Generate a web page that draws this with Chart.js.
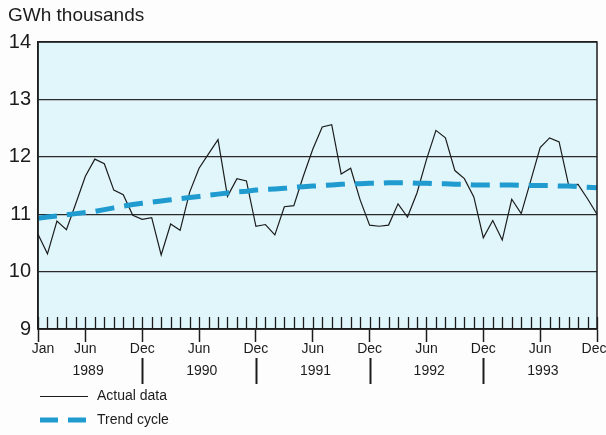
<!DOCTYPE html>
<html>
<head>
<meta charset="utf-8">
<script src="https://cdn.jsdelivr.net/npm/chart.js@4.4.1/dist/chart.umd.min.js"></script>
<style>
    html, body { margin: 0; padding: 0; background: #fdfdfd; }
    #wrap { width: 606px; height: 435px; position: relative; }
</style>
</head>
<body>
<div id="wrap"><canvas id="chart" width="606" height="435"></canvas></div>
<script>
// Data (monthly, Jan 1989 - Dec 1993), GWh thousands
const years = [1989, 1990, 1991, 1992, 1993];
const monthNames = ['Jan', 'Feb', 'Mar', 'Apr', 'May', 'Jun', 'Jul', 'Aug', 'Sep', 'Oct', 'Nov', 'Dec'];
const tickMonths = ['Jun', 'Dec'];

const actualData = [
    10.65, 10.31, 10.88, 10.73, 11.19, 11.66, 11.96, 11.88, 11.42, 11.34, 10.98, 10.91,
    10.94, 10.29, 10.83, 10.72, 11.38, 11.80, 12.05, 12.30, 11.31, 11.62, 11.58, 10.79,
    10.82, 10.64, 11.13, 11.15, 11.66, 12.13, 12.52, 12.56, 11.70, 11.80, 11.25, 10.81,
    10.79, 10.81, 11.18, 10.95, 11.37, 11.95, 12.46, 12.33, 11.76, 11.62, 11.30, 10.59,
    10.89, 10.55, 11.26, 11.01, 11.58, 12.16, 12.33, 12.26, 11.51, 11.52, 11.27, 11.00
];

const trendData = [
    10.93, 10.95, 10.97, 10.99, 11.01, 11.03, 11.05, 11.08, 11.11, 11.14, 11.17, 11.19,
    11.21, 11.23, 11.25, 11.27, 11.29, 11.31, 11.33, 11.35, 11.37, 11.39, 11.40, 11.42,
    11.43, 11.44, 11.45, 11.47, 11.48, 11.49, 11.50, 11.51, 11.52, 11.53, 11.53, 11.54,
    11.54, 11.55, 11.55, 11.55, 11.54, 11.54, 11.53, 11.53, 11.52, 11.52, 11.51, 11.51,
    11.51, 11.51, 11.51, 11.50, 11.50, 11.50, 11.50, 11.49, 11.49, 11.48, 11.47, 11.46
];

const labels = [];
years.forEach(y => monthNames.forEach(m => labels.push(m + ' ' + y)));

const FONT = "'Liberation Sans', Arial, Helvetica, sans-serif";
const INK = '#1c1c1c';
const TREND = '#1f9bd0';

function isMajor(i) {
    return i === 0 || tickMonths.includes(labels[i].split(' ')[0]);
}

// background, inner ticks, month/year rows, title, legend
const decor = {
    id: 'decor',
    beforeDraw(chart) {
        const { ctx, chartArea: a } = chart;
        ctx.save();
        ctx.fillStyle = '#e0f6fa';
        ctx.fillRect(a.left, a.top, a.right - a.left, a.bottom - a.top);
        ctx.restore();
    },
    afterDraw(chart) {
        const { ctx, chartArea: a } = chart;
        const x = chart.scales.x;
        ctx.save();

        // frame
        ctx.strokeStyle = INK;
        ctx.lineWidth = 1.5;
        ctx.strokeRect(a.left, a.top, a.right - a.left, a.bottom - a.top);

        // monthly ticks inside the plot
        ctx.lineWidth = 1.3;
        labels.forEach((l, i) => {
            const px = Math.round(x.getPixelForValue(i)) + 0.5;
            ctx.beginPath();
            ctx.moveTo(px, a.bottom);
            ctx.lineTo(px, a.bottom - 12);
            ctx.stroke();
        });

        // month labels (ends nudged inwards like the original)
        ctx.fillStyle = INK;
        ctx.font = '14px ' + FONT;
        ctx.textAlign = 'center';
        ctx.textBaseline = 'middle';
        labels.forEach((l, i) => {
            if (!isMajor(i)) return;
            let px = x.getPixelForValue(i);
            if (i === 0) px += 5;
            if (i === labels.length - 1) px -= 3;
            ctx.fillText(l.split(' ')[0], px, 349);
        });

        // year labels and separators
        years.forEach((y, k) => {
            const first = x.getPixelForValue(k * 12);
            const last = x.getPixelForValue(k * 12 + 11);
            ctx.fillText(String(y), (first + last) / 2 - 2, 371);
            if (k < years.length - 1) {
                ctx.lineWidth = 2;
                ctx.beginPath();
                ctx.moveTo(Math.round(last) + 0.5, 358);
                ctx.lineTo(Math.round(last) + 0.5, 384);
                ctx.stroke();
            }
        });

        // axis title
        ctx.textAlign = 'left';
        ctx.font = '19px ' + FONT;
        ctx.fillText('GWh thousands', 8, 16);

        // legend
        ctx.font = '14px ' + FONT;
        ctx.lineWidth = 1;
        ctx.beginPath();
        ctx.moveTo(40, 396.5);
        ctx.lineTo(88, 396.5);
        ctx.stroke();
        ctx.fillText('Actual data', 97, 396);

        ctx.strokeStyle = TREND;
        ctx.lineWidth = 5;
        ctx.setLineDash([18, 10]);
        ctx.beginPath();
        ctx.moveTo(40, 420);
        ctx.lineTo(88, 420);
        ctx.stroke();
        ctx.setLineDash([]);
        ctx.fillText('Trend cycle', 97, 420);

        ctx.restore();
    }
};

const chart = new Chart(document.getElementById('chart'), {
    type: 'line',
    data: {
        labels: labels,
        datasets: [
            {
                label: 'Actual data',
                data: actualData,
                borderColor: INK,
                borderWidth: 1.2,
                pointRadius: 0,
                tension: 0,
                order: 1
            },
            {
                label: 'Trend cycle',
                data: trendData,
                borderColor: TREND,
                borderWidth: 5,
                borderDash: [19, 10],
                borderCapStyle: 'butt',
                pointRadius: 0,
                tension: 0,
                order: 0
            }
        ]
    },
    options: {
        responsive: false,
        animation: false,
        layout: { padding: { top: 42, right: 9, left: 0, bottom: 0 } },
        plugins: { legend: { display: false }, tooltip: { enabled: false } },
        scales: {
            x: {
                type: 'category',
                offset: false,
                afterFit: s => { s.height = 106; s.paddingLeft = 0; s.paddingRight = 0; },
                border: { display: true, color: INK, width: 1.5 },
                grid: {
                    drawOnChartArea: false,
                    drawTicks: true,
                    tickLength: 13,
                    tickWidth: 1.5,
                    tickColor: c => isMajor(c.index) ? INK : 'rgba(0,0,0,0)'
                },
                ticks: {
                    autoSkip: false,
                    maxRotation: 0,
                    padding: 2,
                    color: INK,
                    font: { family: FONT, size: 14 },
                    callback: () => ''
                }
            },
            y: {
                min: 9,
                max: 14,
                afterFit: s => { s.width = 38; s.paddingTop = 0; s.paddingBottom = 0; },
                border: { display: true, color: INK, width: 1.5 },
                grid: { color: '#2a2a2a', lineWidth: 1.2, drawTicks: false },
                ticks: {
                    stepSize: 1,
                    padding: 7,
                    color: INK,
                    font: { family: FONT, size: 20 }
                }
            }
        }
    },
    plugins: [decor]
});
</script>
</body>
</html>
